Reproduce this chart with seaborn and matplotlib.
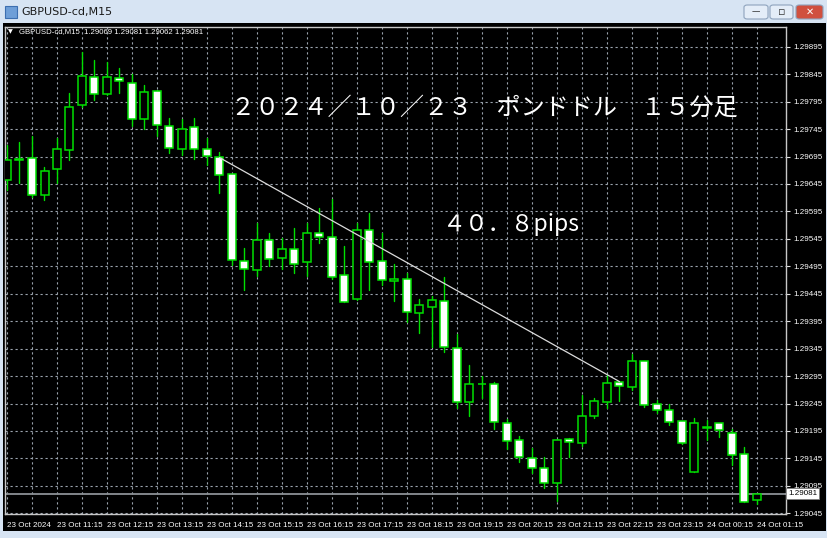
import numpy as np
import pandas as pd
import matplotlib
matplotlib.use("Agg")
import matplotlib.pyplot as plt
from matplotlib.patches import Rectangle, FancyBboxPatch
import seaborn as sns

# ---------------- data ----------------
opens = [1.29652, 1.29689, 1.29692, 1.29624, 1.29672, 1.29707, 1.29788, 1.29839, 1.29809, 1.29838,
         1.29829, 1.29764, 1.29814, 1.29751, 1.29709, 1.29748, 1.29708, 1.29695, 1.29663, 1.29505,
         1.29488, 1.29543, 1.29510, 1.29526, 1.29502, 1.29555, 1.29549, 1.29479, 1.29435, 1.29562,
         1.29505, 1.29469, 1.29471, 1.29410, 1.29420, 1.29432, 1.29347, 1.29247, 1.29280, 1.29280,
         1.29210, 1.29179, 1.29145, 1.29128, 1.29100, 1.29180, 1.29174, 1.29222, 1.29248, 1.29284,
         1.29276, 1.29323, 1.29244, 1.29233, 1.29213, 1.29120, 1.29201, 1.29209, 1.29191, 1.29154,
         1.29069]
highs = [1.29716, 1.29722, 1.29733, 1.29676, 1.29728, 1.29811, 1.29885, 1.29871, 1.29867, 1.29857,
         1.29846, 1.29825, 1.29816, 1.29765, 1.29763, 1.29765, 1.29729, 1.29704, 1.29664, 1.29529,
         1.29573, 1.29555, 1.29547, 1.29564, 1.29574, 1.29601, 1.29617, 1.29532, 1.29573, 1.29593,
         1.29556, 1.29500, 1.29482, 1.29435, 1.29440, 1.29476, 1.29372, 1.29315, 1.29295, 1.29285,
         1.29216, 1.29185, 1.29164, 1.29147, 1.29180, 1.29183, 1.29261, 1.29255, 1.29297, 1.29285,
         1.29335, 1.29323, 1.29251, 1.29245, 1.29213, 1.29218, 1.29215, 1.29209, 1.29198, 1.29165,
         1.29081]
lows = [1.29634, 1.29647, 1.29622, 1.29616, 1.29647, 1.29689, 1.29786, 1.29798, 1.29807, 1.29810,
        1.29751, 1.29745, 1.29732, 1.29701, 1.29698, 1.29690, 1.29680, 1.29629, 1.29497, 1.29452,
        1.29477, 1.29496, 1.29490, 1.29482, 1.29477, 1.29537, 1.29471, 1.29430, 1.29433, 1.29452,
        1.29461, 1.29432, 1.29394, 1.29373, 1.29348, 1.29339, 1.29236, 1.29222, 1.29256, 1.29198,
        1.29162, 1.29139, 1.29118, 1.29091, 1.29068, 1.29147, 1.29168, 1.29218, 1.29237, 1.29250,
        1.29270, 1.29239, 1.29228, 1.29206, 1.29171, 1.29120, 1.29179, 1.29184, 1.29133, 1.29066,
        1.29062]
closes = [1.29689, 1.29691, 1.29625, 1.29668, 1.29709, 1.29786, 1.29842, 1.29809, 1.29839, 1.29833,
          1.29764, 1.29812, 1.29752, 1.29711, 1.29746, 1.29708, 1.29696, 1.29661, 1.29507, 1.29490,
          1.29543, 1.29509, 1.29526, 1.29500, 1.29555, 1.29549, 1.29475, 1.29430, 1.29562, 1.29503,
          1.29470, 1.29471, 1.29412, 1.29424, 1.29433, 1.29348, 1.29248, 1.29280, 1.29281, 1.29211,
          1.29177, 1.29147, 1.29127, 1.29100, 1.29179, 1.29175, 1.29223, 1.29250, 1.29283, 1.29277,
          1.29322, 1.29242, 1.29233, 1.29211, 1.29174, 1.29209, 1.29202, 1.29197, 1.29151, 1.29066,
          1.29081]

x_tick_labels = ["23 Oct 2024", "23 Oct 11:15", "23 Oct 12:15", "23 Oct 13:15", "23 Oct 14:15",
                 "23 Oct 15:15", "23 Oct 16:15", "23 Oct 17:15", "23 Oct 18:15", "23 Oct 19:15",
                 "23 Oct 20:15", "23 Oct 21:15", "23 Oct 22:15", "23 Oct 23:15", "24 Oct 00:15",
                 "24 Oct 01:15"]
y_ticks = [1.29045, 1.29095, 1.29145, 1.29195, 1.29245, 1.29295, 1.29345, 1.29395, 1.29445,
           1.29495, 1.29545, 1.29595, 1.29645, 1.29695, 1.29745, 1.29795, 1.29845, 1.29895]
trend_x = [17, 49]
trend_y = [1.29693, 1.29285]
bid_price = 1.29081
title_text = "２０２４／１０／２３　ポンドドル　１５分足"
pips_text = "４０．８pips"
header_text = "GBPUSD-cd,M15  1.29069 1.29081 1.29062 1.29081"

# ---------------- figure ----------------
sns.set_theme(style="dark")
plt.rcParams["font.family"] = ["Liberation Sans", "DejaVu Sans"]

W, H = 828, 538
fig = plt.figure(figsize=(W / 100, H / 100), dpi=100)
fig.patch.set_facecolor("#d7e4f3")

def fx(px):
    return px / W

def fy(py):
    return 1 - py / H

# black chart window
fig.add_artist(Rectangle((fx(3), fy(531)), fx(823), 508 / H, transform=fig.transFigure,
                         facecolor="black", edgecolor="none", zorder=0))
# title bar elements
fig.add_artist(Rectangle((fx(5), fy(18)), fx(12), 12 / H, transform=fig.transFigure,
                         facecolor="#6f9fd8", edgecolor="#3d6fb0", lw=0.8, zorder=1))
fig.text(fx(21), fy(12.5), "GBPUSD-cd,M15", fontsize=8, color="#1a1a1a", va="center", ha="left",
         family=["DejaVu Sans"])
for (x0, x1, fc) in [(744, 768, "#e4edf8"), (770, 793, "#e4edf8"), (796, 823, "#d0503f")]:
    fig.add_artist(FancyBboxPatch((fx(x0), fy(19)), fx(x1 - x0), 14 / H,
                                  boxstyle="round,pad=0,rounding_size=0.004",
                                  transform=fig.transFigure, facecolor=fc,
                                  edgecolor="#8ea3bd", lw=0.8, zorder=1))
fig.text(fx(756), fy(12), "—", fontsize=6, color="#333333", ha="center", va="center",
         family=["DejaVu Sans"])
fig.text(fx(781.5), fy(12), "▫", fontsize=8, color="#333333", ha="center", va="center",
         family=["DejaVu Sans"])
fig.text(fx(809.5), fy(12), "✕", fontsize=7, color="white", ha="center", va="center",
         family=["DejaVu Sans"], fontweight="bold")

ax = fig.add_axes([fx(5), 1 - 514 / H, fx(781), 487 / H])
ax.set_facecolor("black")

n = len(opens)
idx = np.arange(n)
df = pd.DataFrame({"idx": idx, "open": opens, "high": highs, "low": lows, "close": closes})

green = "#00e000"

# wicks via seaborn lineplot (one unit per candle)
wicks = pd.concat([
    pd.DataFrame({"idx": idx, "price": df["low"], "candle": idx}),
    pd.DataFrame({"idx": idx, "price": df["high"], "candle": idx}),
])
sns.lineplot(data=wicks, x="idx", y="price", units="candle", estimator=None, sort=False,
             color=green, lw=1.0, ax=ax, legend=False, zorder=3)

# bodies
bull = df["close"] >= df["open"]
bottoms = np.minimum(df["open"], df["close"])
heights = np.maximum(np.abs(df["close"] - df["open"]), 0.000002)
fills = np.where(bull, "black", "white")
ax.bar(df["idx"], heights, bottom=bottoms, width=0.64, color=fills, edgecolor=green,
       linewidth=1.1, zorder=4)

# trend line
sns.lineplot(x=trend_x, y=trend_y, color="#dcdcdc", lw=0.9, ax=ax, zorder=5)

# bid line
ax.axhline(bid_price, color="#8c9196", lw=1.3, zorder=2)

# axes limits
ax.set_xlim(-0.16, -0.16 + 781 / 12.5)
ax.set_ylim(1.290438, 1.299309)

# grid
ax.set_xticks(np.arange(0, n, 4))
ax.set_xticklabels(x_tick_labels)
ax.set_xticks(np.arange(2, n, 4), minor=True)
ax.set_yticks(y_ticks)
ax.set_yticklabels([f"{v:.5f}" for v in y_ticks])
ax.grid(True, which="both", axis="x", color="#9aa3ad", lw=0.8, linestyle=(0, (2, 2.5)))
ax.grid(True, which="major", axis="y", color="#9aa3ad", lw=0.8, linestyle=(0, (2, 2.5)))
ax.set_axisbelow(True)

ax.yaxis.tick_right()
ax.tick_params(axis="y", which="major", colors="#e0e0e0", length=3, width=0.8, pad=2,
               labelsize=5.8, labelcolor="white", direction="out", left=False, right=True)
ax.tick_params(axis="x", which="major", colors="#e0e0e0", length=3, width=0.8, pad=3,
               labelsize=5.8, labelcolor="white", direction="out")
ax.tick_params(axis="x", which="minor", length=0)
for lbl in ax.get_xticklabels():
    lbl.set_horizontalalignment("left")
ax.set_xlabel("")
ax.set_ylabel("")

for sp in ax.spines.values():
    sp.set_visible(True)
    sp.set_color("#c8c8c8")
    sp.set_linewidth(1.0)

# bid price label box
ax.text(1.003, bid_price, f"{bid_price:.5f}", transform=ax.get_yaxis_transform(),
        fontsize=5.8, color="black", ha="left", va="center", zorder=10, clip_on=False,
        bbox=dict(boxstyle="square,pad=0.25", facecolor="white", edgecolor="#808080", lw=0.6))

# header in chart
fig.text(fx(8), fy(32), "▼", fontsize=4.5, color="white", ha="left", va="center",
         family=["DejaVu Sans"])
fig.text(fx(19), fy(32), header_text, fontsize=5.6, color="white", ha="left", va="center")

# Japanese annotations
jp = ["Noto Sans CJK JP", "DejaVu Sans"]
fig.text(fx(231), fy(108), title_text, fontsize=17.4, color="white", ha="left", va="center",
         family=jp)
fig.text(fx(443), fy(224), pips_text, fontsize=16.5, color="white", ha="left", va="center",
         family=jp)

fig.savefig("out.png", dpi=100, facecolor=fig.get_facecolor())
